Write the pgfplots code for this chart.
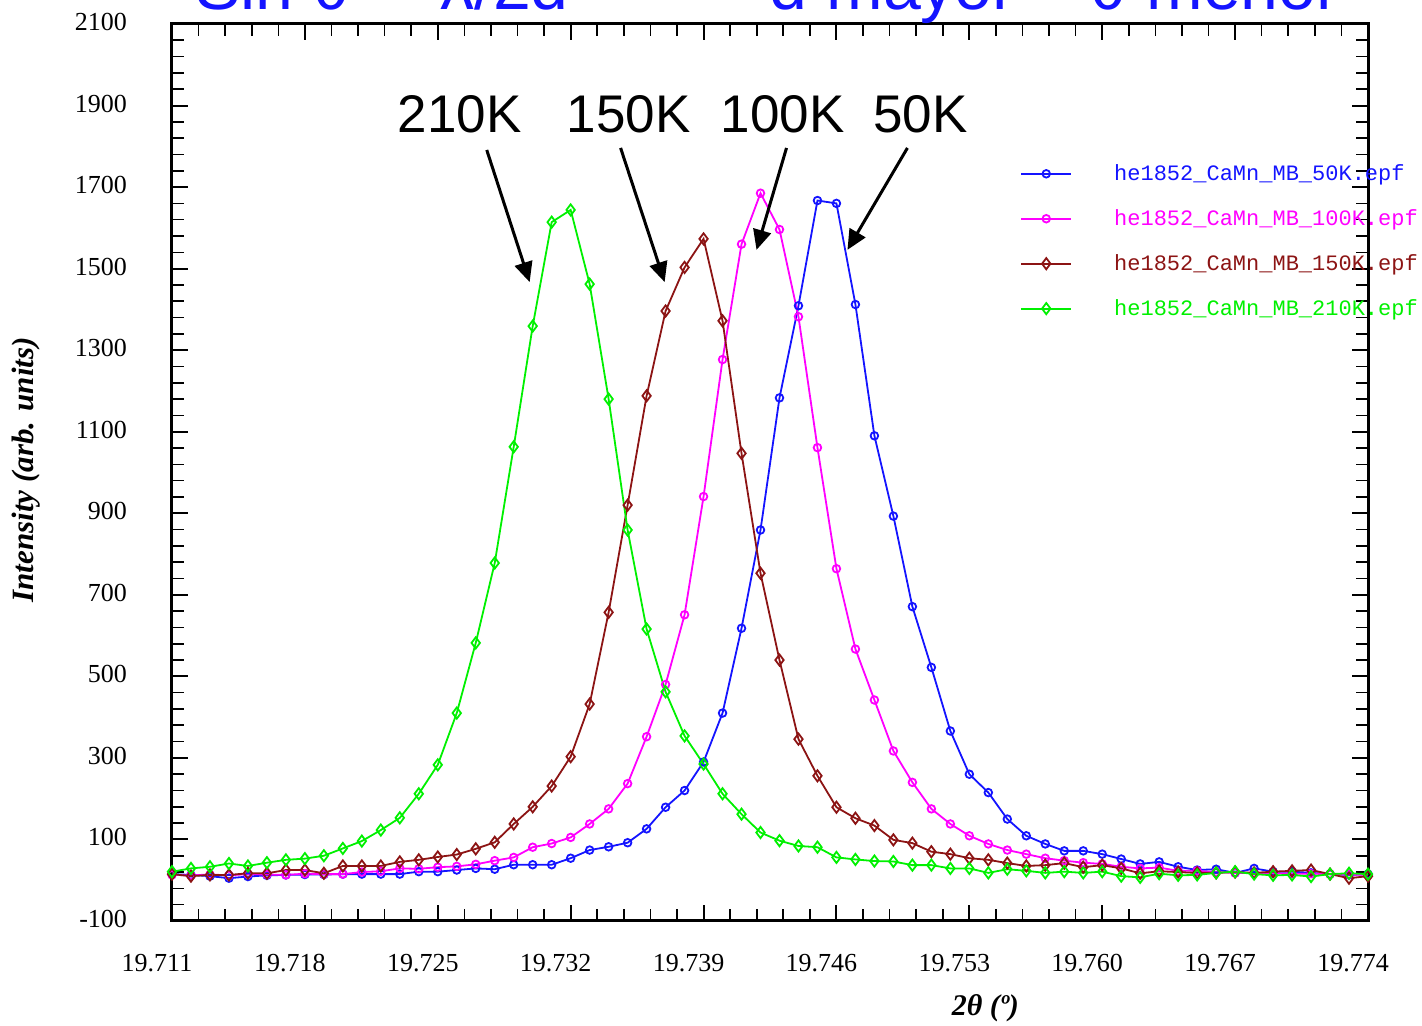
\documentclass[border=0pt]{standalone}
\usepackage{fontspec}
\setmainfont{Liberation Serif}
\newfontfamily\arialf{Liberation Sans}
\newfontfamily\courf{Liberation Mono}
\usepackage{pgfplots}
\pgfplotsset{compat=1.18}
\usepackage{pgfplotstable}
\usetikzlibrary{arrows.meta}

\definecolor{cblue}{RGB}{20,20,255}
\definecolor{cpink}{RGB}{255,0,255}
\definecolor{cbrown}{RGB}{140,20,20}
\definecolor{cgreen}{RGB}{0,240,0}

% 2theta, 50K, 100K, 150K, 210K
\pgfplotstableread{
x      b     p     r     g
19.711 15    13    15    21
19.712 13    12    10    29
19.713 10    14    13    33
19.714 5     12    13    41
19.715 9     15    17    35
19.716 12    14    17    43
19.717 13    13    25    50
19.718 14    16    25    53
19.719 14    15    17    60
19.720 15    15    35    78
19.721 15    20    35    96
19.722 15    22    35    123
19.723 15    29    45    153
19.724 21    28    50    212
19.725 21    32    57    283
19.726 25    34    63    410
19.727 29    39    77    582
19.728 27    48    93    778
19.729 38    56    138   1063
19.730 38    81    180   1359
19.731 38    90    231   1614
19.732 54    105   303   1644
19.733 74    138   432   1462
19.734 82    175   657   1180
19.735 92    237   920   859
19.736 126   352   1188  616
19.737 179   480   1396  462
19.738 220   651   1503  354
19.739 290   941   1573  285
19.740 410   1277  1372  212
19.741 618   1560  1047  162
19.742 859   1685  753   117
19.743 1183  1596  540   97
19.744 1409  1382  346   84
19.745 1667  1061  256   81
19.746 1660  764   179   56
19.747 1412  567   152   51
19.748 1090  442   134   47
19.749 893   317   99    46
19.750 671   240   91    37
19.751 522   175   70    37
19.752 366   138   64    29
19.753 260   109   54    29
19.754 215   89    50    18
19.755 150   74    42    27
19.756 109   64    35    23
19.757 89    54    37    18
19.758 72    48    42    21
19.759 72    43    32    18
19.760 64    40    37    21
19.761 52    33    29    10
19.762 40    29    17    7
19.763 45    31    22    16
19.764 33    23    20    12
19.765 25    23    18    13
19.766 27    20    18    18
19.767 18    18    20    21
19.768 29    18    18    15
19.769 21    17    21    12
19.770 21    16    23    13
19.771 18    16    25    9
19.772 15    15    15    15
19.773 13    14    5     17
19.774 15    13    10    15
}\peaks

\begin{document}
\begin{tikzpicture}
\begin{axis}[
    name=ax,
    scale only axis,
    width=598pt, height=448.5pt,
    xmin=19.711, xmax=19.774,
    ymin=-100, ymax=2100,
    xtick={19.711,19.718,19.725,19.732,19.739,19.746,19.753,19.760,19.767,19.774},
    ytick={-100,100,...,2100},
    minor tick num=4,
    tick align=inside,
    major tick length=8pt, minor tick length=6pt,
    axis line style={line width=1.5pt},
    major tick style={black, line width=1pt},
    minor tick style={black, line width=0.8pt},
    /pgf/number format/assume math mode=true,
    /pgf/number format/1000 sep={},
    xticklabel={\pgfmathprintnumber[fixed,fixed zerofill,precision=3]{\tick}},
    tick label style={font=\fontsize{13}{15}\selectfont},
    xticklabel style={yshift=-13pt, xshift=-7.5pt},
    yticklabel style={xshift=-19pt, yshift=1pt},
    xlabel={\textbf{\textit{2θ (º)}}},
    ylabel={\textbf{\textit{Intensity (arb. units)}}},
    xlabel style={font=\fontsize{15}{15}\selectfont, at={(axis description cs:0.68,0)}, anchor=center, yshift=-43.5pt},
    ylabel style={font=\fontsize{15.5}{15.5}\selectfont, at={(axis description cs:-0.122,0.503)}, anchor=center},
    clip=false,
    legend style={draw=none, fill=none, at={(axis description cs:0.709,0.844)}, anchor=north west,
        inner sep=0pt, row sep=13pt, column sep=21pt,
        font=\courf\fontsize{11}{11}\selectfont, nodes={inner sep=0pt}},
    legend cell align=left,
    legend image code/.code={\draw[mark repeat=2,mark phase=2,#1] plot coordinates {(0pt,0pt) (12.5pt,0pt) (25pt,0pt)};},
  ]
  \addplot[cblue, line width=0.9pt, mark=o, mark size=1.9pt, mark options={solid}] table[x=x, y=b] {\peaks};
  \addlegendentry{\textcolor{cblue}{he1852\_CaMn\_MB\_50K.epf}}
  \addplot[cpink, line width=0.9pt, mark=o, mark size=1.9pt, mark options={solid}] table[x=x, y=p] {\peaks};
  \addlegendentry{\textcolor{cpink}{he1852\_CaMn\_MB\_100K.epf}}
  \addplot[cbrown, line width=0.9pt, mark=diamond, mark size=2.8pt, mark options={solid}] table[x=x, y=r] {\peaks};
  \addlegendentry{\textcolor{cbrown}{he1852\_CaMn\_MB\_150K.epf}}
  \addplot[cgreen, line width=0.9pt, mark=diamond, mark size=2.8pt, mark options={solid}] table[x=x, y=g] {\peaks};
  \addlegendentry{\textcolor{cgreen}{he1852\_CaMn\_MB\_210K.epf}}

  % temperature labels and arrows
  \begin{scope}[every node/.style={font=\arialf\fontsize{26.5}{26.5}\selectfont, anchor=base}]
    \node at (axis cs:19.72616,1833) {210K};
    \node at (axis cs:19.73505,1833) {150K};
    \node at (axis cs:19.74316,1833) {100K};
    \node at (axis cs:19.75042,1833) {50K};
  \end{scope}
  \begin{scope}[line width=1.5pt, -{Triangle[length=10pt,width=9pt]}]
    \draw (axis cs:19.72758,1791) -- (axis cs:19.72984,1467);
    \draw (axis cs:19.73463,1796) -- (axis cs:19.73695,1467);
    \draw (axis cs:19.74337,1796) -- (axis cs:19.74179,1546);
    \draw (axis cs:19.74974,1796) -- (axis cs:19.74658,1546);
  \end{scope}

  % slide title, mostly cut off by the frame
  \begin{scope}[every node/.style={font=\arialf\fontsize{34}{34}\selectfont, text=cblue, inner sep=0pt, anchor=base west}]
    \node at (axis cs:19.71221,2136) {Sin θ};
    \node at (axis cs:19.72511,2136) {λ/2d};
    \node at (axis cs:19.74247,2136) {d mayor};
    \node at (axis cs:19.75932,2136) {θ menor};
  \end{scope}
\end{axis}
\pgfresetboundingbox
\path[use as bounding box] ([shift={(-86pt,-52.5pt)}]ax.south west) rectangle ([shift={(27pt,12pt)}]ax.north east);
\end{tikzpicture}
\end{document}
